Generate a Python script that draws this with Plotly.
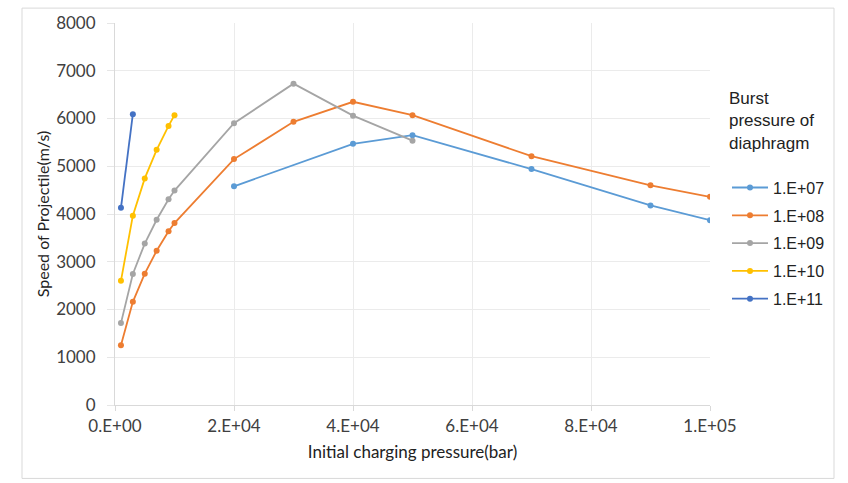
import plotly.graph_objects as go

# ---- data ----
series_names = ["1.E+07", "1.E+08", "1.E+09", "1.E+10", "1.E+11"]

x_1e7 = [20000, 40000, 50000, 70000, 90000, 100000]
y_1e7 = [4580, 5470, 5650, 4940, 4180, 3870]

x_1e8 = [1000, 3000, 5000, 7000, 9000, 10000, 20000, 30000, 40000, 50000, 70000, 90000, 100000]
y_1e8 = [1250, 2160, 2750, 3230, 3640, 3810, 5150, 5930, 6350, 6070, 5210, 4600, 4360]

x_1e9 = [1000, 3000, 5000, 7000, 9000, 10000, 20000, 30000, 40000, 50000]
y_1e9 = [1715, 2745, 3380, 3880, 4310, 4490, 5900, 6730, 6060, 5535]

x_1e10 = [1000, 3000, 5000, 7000, 9000, 10000]
y_1e10 = [2600, 3965, 4745, 5345, 5845, 6070]

x_1e11 = [1000, 3000]
y_1e11 = [4130, 6090]

x_ticks = [0, 20000, 40000, 60000, 80000, 100000]
x_tick_labels = ["0.E+00", "2.E+04", "4.E+04", "6.E+04", "8.E+04", "1.E+05"]
y_ticks = [0, 1000, 2000, 3000, 4000, 5000, 6000, 7000, 8000]

colors = ["#5B9BD5", "#ED7D31", "#A5A5A5", "#FFC000", "#4472C4"]

xs = [x_1e7, x_1e8, x_1e9, x_1e10, x_1e11]
ys = [y_1e7, y_1e8, y_1e9, y_1e10, y_1e11]

fig = go.Figure()
for name, x, y, c in zip(series_names, xs, ys, colors):
    fig.add_trace(go.Scatter(
        x=x, y=y, name=name, legendgroup=name,
        mode="lines+markers",
        line=dict(color=c, width=1.8),
        marker=dict(color=c, size=6),
    ))

axis_font = dict(family="Lato, Carlito, sans-serif", size=17, color="#404040")

fig.update_layout(
    width=848, height=483,
    margin=dict(l=115, r=138, t=20, b=78),
    paper_bgcolor="white", plot_bgcolor="white",
    showlegend=True,
    legend=dict(
        x=(727 - 115) / 595, xanchor="left", y=0.845, yanchor="top",
        title=dict(text="Burst<br>pressure of<br>diaphragm<br> ",
                   font=dict(family="Liberation Sans, Arial, sans-serif", size=17, color="#222222")),
        font=dict(family="Liberation Sans, Arial, sans-serif", size=16, color="#222222"),
        tracegroupgap=4,
        itemwidth=36,
        bgcolor="rgba(0,0,0,0)",
    ),
    xaxis=dict(
        range=[0, 100000],
        tickmode="array", tickvals=x_ticks, ticktext=x_tick_labels,
        tickfont=axis_font,
        showgrid=True, gridcolor="#EBEBEB", gridwidth=1,
        zeroline=False,
        showline=True, linecolor="#D9D9D9", linewidth=1,
        ticks="outside", ticklen=5, tickcolor="#D9D9D9",
        ticklabelstandoff=1,
        title=dict(text="Initial charging pressure(bar)",
                   font=dict(family="Lato, Carlito, sans-serif", size=17, color="#222222"),
                   standoff=10),
    ),
    yaxis=dict(
        range=[0, 8000],
        tickmode="array", tickvals=y_ticks,
        tickfont=axis_font,
        showgrid=True, gridcolor="#EBEBEB", gridwidth=1,
        zeroline=False,
        showline=True, linecolor="#D9D9D9", linewidth=1,
        ticks="outside", ticklen=7, tickcolor="#E6E6E6",
        ticklabelstandoff=8,
        title=dict(text="Speed of Projectile(m/s)",
                   font=dict(family="Lato, Carlito, sans-serif", size=16, color="#222222"),
                   standoff=2),
    ),
    shapes=[dict(
        type="rect", xref="paper", yref="paper",
        x0=(22 - 115) / 595, x1=(834 - 115) / 595,
        y0=(405 - 479) / 385, y1=(405 - 5) / 385,
        line=dict(color="#D9D9D9", width=1), fillcolor="rgba(0,0,0,0)",
        layer="below",
    )],
)

fig.write_html("out.html")
